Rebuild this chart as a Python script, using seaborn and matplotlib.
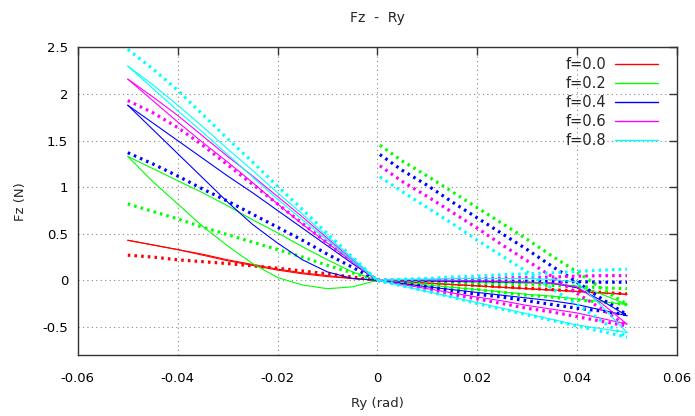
import numpy as np
import pandas as pd
import matplotlib
matplotlib.use("Agg")
import matplotlib.pyplot as plt
import seaborn as sns
from matplotlib.lines import Line2D

# values
f_labels = ["f=0.0", "f=0.2", "f=0.4", "f=0.6", "f=0.8"]
colors = ["#ff0000", "#00ff00", "#0000ff", "#ff00ff", "#00ffff"]

ry_left = [-0.05, -0.045, -0.04, -0.035, -0.03, -0.025, -0.02, -0.015, -0.01, -0.005, 0.0]
ry_right = [0.0, 0.005, 0.01, 0.015, 0.02, 0.025, 0.03, 0.035, 0.04, 0.045, 0.05]
ry_right_jump = [0.0005, 0.005, 0.01, 0.015, 0.02, 0.025, 0.03, 0.035, 0.04, 0.045, 0.05]

# measured (solid), two branches per side
solid_left_a = [
    [0.43, 0.38, 0.33, 0.28, 0.22, 0.17, 0.12, 0.08, 0.05, 0.02, 0],
    [1.33, 1.2, 1.07, 0.94, 0.80, 0.65, 0.51, 0.36, 0.22, 0.09, 0],
    [1.88, 1.69, 1.50, 1.31, 1.12, 0.94, 0.75, 0.56, 0.37, 0.18, 0],
    [2.16, 1.97, 1.77, 1.55, 1.33, 1.12, 0.9, 0.68, 0.45, 0.22, 0],
    [2.30, 2.10, 1.88, 1.65, 1.41, 1.18, 0.94, 0.71, 0.47, 0.24, 0],
]
solid_left_b = [
    [0.43, 0.38, 0.33, 0.27, 0.21, 0.16, 0.11, 0.07, 0.04, 0.02, 0],
    [1.33, 1.06, 0.82, 0.58, 0.37, 0.18, 0.03, -0.05, -0.09, -0.07, 0],
    [1.88, 1.62, 1.36, 1.1, 0.84, 0.6, 0.4, 0.22, 0.09, 0.02, 0],
    [2.16, 1.93, 1.70, 1.48, 1.27, 1.05, 0.82, 0.6, 0.40, 0.2, 0],
    [2.30, 2.06, 1.82, 1.59, 1.35, 1.11, 0.87, 0.65, 0.43, 0.21, 0],
]
solid_right_a = [
    [0, -0.015, -0.03, -0.045, -0.06, -0.075, -0.09, -0.105, -0.12, -0.135, -0.15],
    [0, -0.005, -0.01, -0.015, -0.02, -0.025, -0.03, -0.04, -0.06, -0.15, -0.26],
    [0, 0, -0.005, -0.01, -0.01, -0.015, -0.02, -0.03, -0.08, -0.22, -0.38],
    [0, 0.005, 0.005, 0, -0.005, -0.01, -0.02, -0.03, -0.07, -0.25, -0.47],
    [0, 0.01, 0.015, 0.02, 0.02, 0.02, 0.02, 0.01, -0.02, -0.28, -0.56],
]
solid_right_b = [
    [0, -0.015, -0.03, -0.045, -0.06, -0.075, -0.09, -0.105, -0.12, -0.135, -0.15],
    [0, -0.025, -0.05, -0.075, -0.1, -0.125, -0.15, -0.17, -0.2, -0.23, -0.26],
    [0, -0.035, -0.07, -0.1, -0.13, -0.16, -0.19, -0.22, -0.26, -0.32, -0.38],
    [0, -0.045, -0.09, -0.135, -0.18, -0.22, -0.27, -0.31, -0.35, -0.41, -0.47],
    [0, -0.06, -0.12, -0.18, -0.24, -0.3, -0.36, -0.42, -0.48, -0.52, -0.56],
]

# model (dotted)
dotted_left = [
    [0.27, 0.25, 0.22, 0.20, 0.18, 0.155, 0.13, 0.10, 0.07, 0.035, 0],
    [0.82, 0.74, 0.66, 0.57, 0.49, 0.41, 0.33, 0.25, 0.16, 0.08, 0],
    [1.37, 1.25, 1.12, 0.98, 0.85, 0.71, 0.57, 0.43, 0.28, 0.14, 0],
    [1.93, 1.80, 1.64, 1.45, 1.24, 1.03, 0.82, 0.61, 0.40, 0.2, 0],
    [2.48, 2.27, 2.04, 1.78, 1.52, 1.27, 1.01, 0.76, 0.5, 0.25, 0],
]
dotted_right_flat = [
    [0, -0.01, -0.025, -0.04, -0.055, -0.07, -0.085, -0.1, -0.115, -0.13, -0.145],
    [0, -0.01, -0.015, -0.025, -0.03, -0.04, -0.045, -0.055, -0.065, -0.08, -0.09],
    [0, 0, 0, -0.005, -0.005, -0.01, -0.01, -0.015, -0.015, -0.02, -0.02],
    [0, 0.005, 0.01, 0.015, 0.02, 0.025, 0.03, 0.035, 0.045, 0.05, 0.05],
    [0, 0.01, 0.02, 0.035, 0.045, 0.06, 0.07, 0.08, 0.095, 0.11, 0.12],
]
dotted_right_low = [
    None,
    [0, -0.025, -0.05, -0.08, -0.1, -0.13, -0.16, -0.18, -0.21, -0.235, -0.26],
    [0, -0.035, -0.07, -0.11, -0.15, -0.18, -0.22, -0.26, -0.3, -0.33, -0.37],
    [0, -0.05, -0.1, -0.15, -0.2, -0.25, -0.3, -0.34, -0.39, -0.44, -0.49],
    [0, -0.06, -0.12, -0.18, -0.25, -0.31, -0.37, -0.43, -0.49, -0.55, -0.61],
]
dotted_right_high = [
    None,
    [1.45, 1.28, 1.12, 0.95, 0.78, 0.61, 0.44, 0.26, 0.09, -0.09, -0.26],
    [1.35, 1.18, 1.02, 0.84, 0.67, 0.5, 0.33, 0.15, -0.02, -0.2, -0.37],
    [1.23, 1.06, 0.9, 0.73, 0.56, 0.38, 0.21, 0.04, -0.14, -0.31, -0.49],
    [1.11, 0.95, 0.78, 0.61, 0.43, 0.26, 0.09, -0.09, -0.26, -0.44, -0.61],
]

sns.set_style("white")
plt.rcParams["font.family"] = ["DejaVu Sans"]
plt.rcParams["font.size"] = 9.5

fig = plt.figure(figsize = (6.95, 4.16), dpi = 100)
ax = fig.add_axes([0.112, 0.147, 0.862, 0.739])

dot_style = (0, (0.8, 1.3))
for i in range(5):
    c = colors[i]
    for xs, ys in [(ry_left, solid_left_a[i]), (ry_left, solid_left_b[i]),
                   (ry_right, solid_right_a[i]), (ry_right, solid_right_b[i])]:
        sns.lineplot(x = xs, y = ys, color = c, linewidth = 0.8, sort = False,
                     estimator = None, ax = ax)
    dotted = [(ry_left, dotted_left[i]), (ry_right, dotted_right_flat[i]),
              (ry_right, dotted_right_low[i]), (ry_right_jump, dotted_right_high[i])]
    for xs, ys in dotted:
        if ys is None:
            continue
        sns.lineplot(x = xs, y = ys, color = c, linewidth = 2.3, linestyle = dot_style,
                     sort = False, estimator = None, ax = ax)

ax.set_xlim(-0.06, 0.06)
ax.set_ylim(-0.8, 2.5)
ax.set_xticks([-0.06, -0.04, -0.02, 0, 0.02, 0.04, 0.06])
ax.set_xticklabels(["-0.06", "-0.04", "-0.02", "0", "0.02", "0.04", "0.06"])
ax.set_yticks([-0.5, 0, 0.5, 1, 1.5, 2, 2.5])
ax.set_yticklabels(["-0.5", "0", "0.5", "1", "1.5", "2", "2.5"])
ax.grid(True, linestyle = (0, (1, 3)), color = "#888888", linewidth = 0.8)
ax.tick_params(direction = "in", length = 6, width = 1, top = True, right = True,
               colors = "#333333", labelcolor = "black")
ax.tick_params(axis = "x", pad = 12)
ax.tick_params(axis = "y", pad = 7)
for s in ax.spines.values():
    s.set_color("#333333")
    s.set_linewidth(1)

ax.set_xlabel("Ry (rad)", labelpad = 9)
ax.set_ylabel("Fz (N)", labelpad = 11)
ax.set_title("Fz  -  Ry", pad = 18, fontsize = 10)

handles = [Line2D([0], [0], color = c, linewidth = 1) for c in colors]
leg = ax.legend(handles, f_labels, loc = "upper right", bbox_to_anchor = (0.985, 1.0),
                frameon = False, markerfirst = False,
                handlelength = 3.0, labelspacing = 0.28, borderaxespad = 0.25,
                handletextpad = 0.6, fontsize = 10.5)
for t in leg.get_texts():
    t.set_ha("right")

fig.savefig("out.png", dpi = 100)
